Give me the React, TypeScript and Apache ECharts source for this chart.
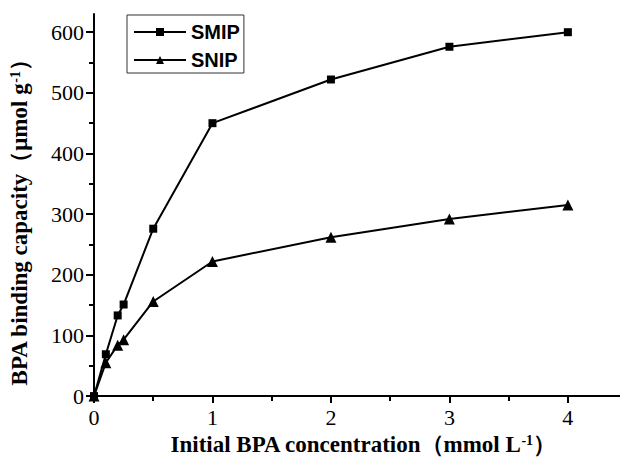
import React, { useEffect, useRef } from "react";
import * as echarts from "echarts";

const xValues = [0, 0.1, 0.2, 0.25, 0.5, 1, 2, 3, 4];
const smipValues = [0, 69, 133, 151, 276, 450, 522, 576, 600];
const snipValues = [0, 55, 84, 93, 156, 222, 262, 292, 315];
const xMajorTicks = [0, 1, 2, 3, 4];
const xMinorTicks = [0.5, 1.5, 2.5, 3.5];
const yMajorTicks = [0, 100, 200, 300, 400, 500, 600];
const yMinorTicks = [50, 150, 250, 350, 450, 550];

const serif = "Liberation Serif";
const sans = "Liberation Sans";

export default function App() {
  const ref = useRef<HTMLDivElement>(null);
  useEffect(() => {
    if (!ref.current) return;
    document.body.style.margin = "0";
    document.body.style.overflow = "hidden";
    document.documentElement.style.overflow = "hidden";
    const chart = echarts.init(ref.current, undefined, { renderer: "svg" });
    const pair = (ys: number[]) => xValues.map((x, i) => [x, ys[i]]);
    const axisLine = { show: true, lineStyle: { color: "#000", width: 2 } };
    const tStyle = { fontFamily: serif, fontSize: 22, color: "#000", fontWeight: "normal" };
    const tickLabel = { ...tStyle, rich: { t: { ...tStyle } } };
    const onlyIn = (list: number[]) => (v: number) => (list.indexOf(v) >= 0 ? "{t|" + v + "}" : "");
    chart.setOption({
      animation: false,
      backgroundColor: "#fff",
      textStyle: { fontFamily: serif },
      grid: { left: 93.5, right: 0, top: 14, bottom: 60.5, containLabel: false },
      legend: {
        orient: "vertical",
        left: 127,
        top: 15,
        width: 120,
        padding: [7, 4, 3, 6],
        itemGap: 8,
        itemWidth: 52,
        itemHeight: 10,
        borderColor: "#333",
        borderWidth: 1,
        textStyle: { fontFamily: sans, fontWeight: "bold", fontSize: 20, color: "#000" },
        data: ["SMIP", "SNIP"],
      },
      xAxis: [
        {
          type: "value",
          min: 0,
          max: 4.44,
          interval: 1,
          axisLine,
          splitLine: { show: false },
          axisTick: { show: true, customValues: xMajorTicks, length: 7, lineStyle: { color: "#000", width: 2 } },
          axisLabel: { margin: 10, formatter: onlyIn(xMajorTicks), showMaxLabel: false, ...tickLabel },
          name: "Initial BPA concentration（mmol L{sup|-1}）",
          nameLocation: "middle",
          nameGap: 36,
          nameTextStyle: {
            fontFamily: serif,
            fontWeight: "bold",
            fontSize: 23,
            color: "#000",
            padding: [0, 0, 0, 12],
            rich: { sup: { fontFamily: serif, fontWeight: "bold", fontSize: 14, verticalAlign: "top", lineHeight: 12, color: "#000" } },
          },
        },
        {
          type: "value",
          min: 0,
          max: 4.44,
          position: "bottom",
          axisLine: { show: false },
          splitLine: { show: false },
          axisTick: { show: true, customValues: xMinorTicks, length: 5, lineStyle: { color: "#000", width: 2 } },
          axisLabel: { show: false },
        },
      ],
      yAxis: [
        {
          type: "value",
          min: 0,
          max: 630,
          interval: 100,
          axisLine,
          splitLine: { show: false },
          axisTick: { show: true, customValues: yMajorTicks, length: 8, lineStyle: { color: "#000", width: 2 } },
          axisLabel: { margin: 10, formatter: onlyIn(yMajorTicks), showMaxLabel: false, ...tickLabel },
          name: "BPA binding capacity（μmol g{sup|-1}）",
          nameLocation: "middle",
          nameGap: 63,
          nameTextStyle: {
            fontFamily: serif,
            fontWeight: "bold",
            fontSize: 23,
            color: "#000",
            padding: [0, 24, 0, 0],
            rich: { sup: { fontFamily: serif, fontWeight: "bold", fontSize: 14, verticalAlign: "top", lineHeight: 13, color: "#000" } },
          },
        },
        {
          type: "value",
          min: 0,
          max: 630,
          position: "left",
          axisLine: { show: false },
          splitLine: { show: false },
          axisTick: { show: true, customValues: yMinorTicks, length: 5, lineStyle: { color: "#000", width: 2 } },
          axisLabel: { show: false },
        },
      ],
      series: [
        {
          name: "SMIP",
          type: "line",
          data: pair(smipValues),
          symbol: "rect",
          symbolSize: 8,
          lineStyle: { color: "#000", width: 2 },
          itemStyle: { color: "#000" },
        },
        {
          name: "SNIP",
          type: "line",
          data: pair(snipValues),
          symbol: "triangle",
          symbolSize: 11,
          lineStyle: { color: "#000", width: 2 },
          itemStyle: { color: "#000" },
        },
      ],
    });
    return () => chart.dispose();
  }, []);
  return (
    <div
      ref={ref}
      style={{ width: 620, height: 461, position: "absolute", left: 0, top: 0, overflow: "hidden" }}
    />
  );
}
